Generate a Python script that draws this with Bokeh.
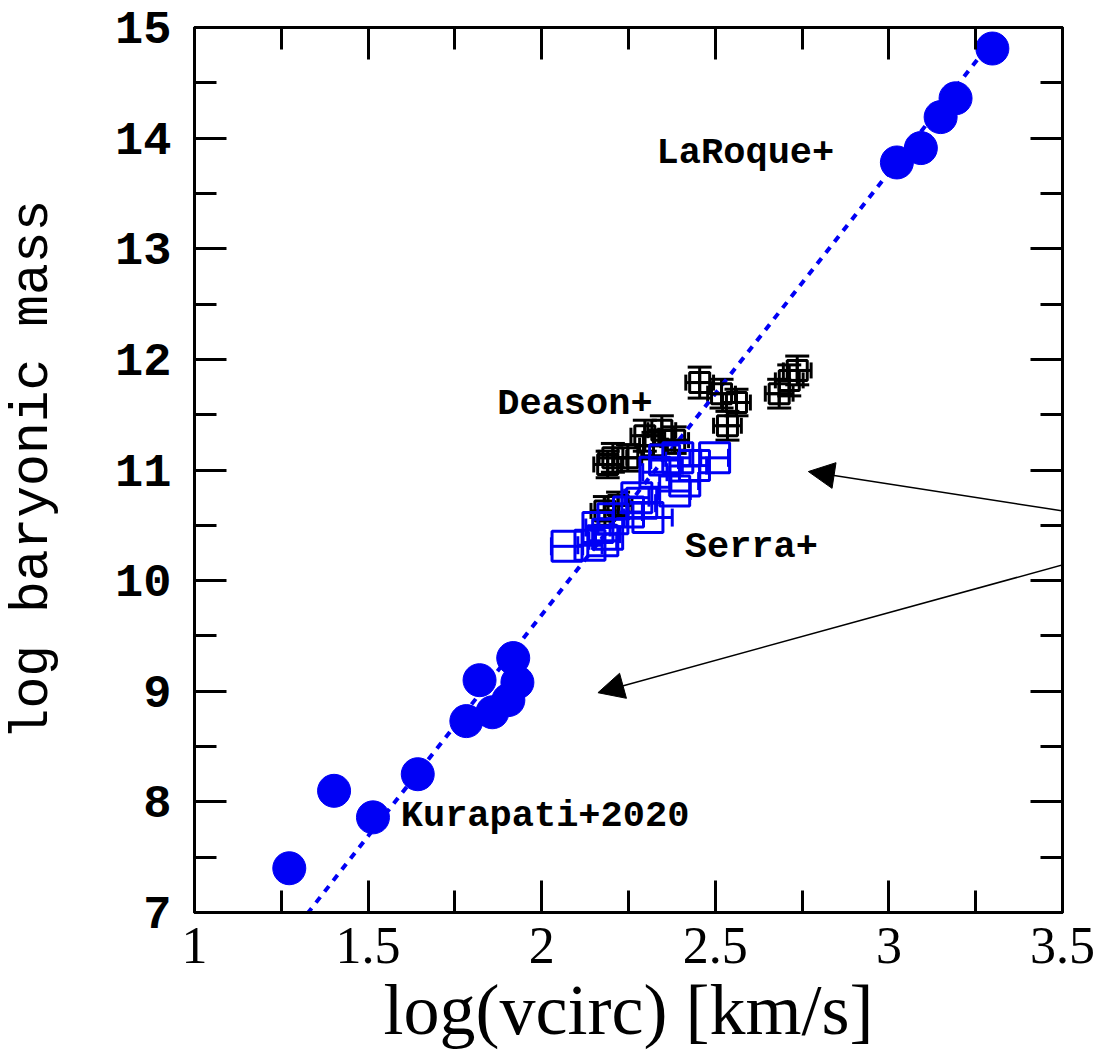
from bokeh.plotting import figure
from bokeh.models import (ColumnDataSource, FixedTicker, LinearAxis, Range1d, Arrow,
                          NormalHead, Whisker, TeeHead, CustomJSTickFormatter)
from bokeh.core.properties import value
from bokeh.embed import file_html
from bokeh.resources import INLINE

# Kurapati+2020 dwarfs
kur_logv = [1.273, 1.402, 1.514, 1.643, 1.783, 1.821, 1.918, 1.930, 1.904, 1.858]
kur_logm = [7.40, 8.10, 7.86, 8.25, 8.73, 9.10, 9.30, 9.08, 8.92, 8.81]

# LaRoque+ clusters
lar_logv = [3.023, 3.092, 3.149, 3.192, 3.298]
lar_logm = [13.78, 13.91, 14.19, 14.36, 14.81]

# Deason+ galaxies (with errors)
dea_logv = [2.182, 2.220, 2.205, 2.248, 2.297, 2.346, 2.383, 2.455, 2.518, 2.561,
            2.535, 2.684, 2.713, 2.736, 2.322, 2.190]
dea_logm = [10.63, 10.68, 11.11, 11.11, 11.31, 11.36, 11.27, 11.79, 11.69, 11.61,
            11.40, 11.69, 11.81, 11.90, 11.22, 11.05]
dea_verr = [0.04, 0.04, 0.04, 0.04, 0.04, 0.04, 0.04, 0.04, 0.04, 0.04,
            0.04, 0.04, 0.04, 0.04, 0.04, 0.04]
dea_merr = [0.13, 0.12, 0.13, 0.12, 0.14, 0.13, 0.12, 0.14, 0.13, 0.12,
            0.13, 0.13, 0.14, 0.13, 0.12, 0.12]

# Serra+ galaxies (with errors)
ser_logv = [2.073, 2.139, 2.176, 2.162, 2.205, 2.288, 2.306, 2.274, 2.354, 2.392,
            2.412, 2.383, 2.440, 2.498, 2.326, 2.190, 2.250]
ser_logm = [10.31, 10.32, 10.36, 10.48, 10.56, 10.70, 10.57, 10.75, 11.09, 11.11,
            10.90, 10.81, 11.04, 11.11, 10.98, 10.42, 10.62]
ser_verr = [0.045, 0.035, 0.040, 0.035, 0.040, 0.040, 0.070, 0.035, 0.040, 0.035,
            0.040, 0.045, 0.035, 0.040, 0.035, 0.035, 0.040]

# Fitted relation, drawn between two end points
fit_logv = [1.30, 3.30]
fit_logm = [6.89, 14.89]

# Axis ticks
x_major = [1, 1.5, 2, 2.5, 3, 3.5]
x_minor = [1.25, 1.75, 2.25, 2.75, 3.25]
y_major = [7, 8, 9, 10, 11, 12, 13, 14, 15]
y_minor = [7.5, 8.5, 9.5, 10.5, 11.5, 12.5, 13.5, 14.5]

BLUE = "#0000f5"

p = figure(width=1102, height=1059, x_range=Range1d(1, 3.5), y_range=Range1d(7, 15),
           output_backend="svg", toolbar_location=None,
           min_border_left=193, min_border_right=40, min_border_top=27,
           min_border_bottom=147, background_fill_color="white",
           border_fill_color="white")
p.xgrid.visible = False
p.ygrid.visible = False
p.outline_line_color = "black"
p.outline_line_width = 3


def style_axis(ax, ticks, minor):
    ax.ticker = FixedTicker(ticks=ticks, minor_ticks=minor)
    ax.axis_line_color = "black"
    ax.axis_line_width = 3
    ax.major_tick_line_color = "black"
    ax.major_tick_line_width = 3
    ax.minor_tick_line_color = "black"
    ax.minor_tick_line_width = 3
    ax.major_tick_in = 32
    ax.major_tick_out = 0
    ax.minor_tick_in = 22
    ax.minor_tick_out = 0
    ax.major_label_text_color = "black"
    ax.axis_label_text_color = "black"
    ax.axis_label_text_font_style = "normal"


xax = p.xaxis[0]
style_axis(xax, x_major, x_minor)
xax.formatter = CustomJSTickFormatter(code="return tick.toString();")
xax.major_label_text_font = "Liberation Serif"
xax.major_label_text_font_size = "52px"
xax.major_label_standoff = 15
xax.axis_label = "log(vcirc) [km/s]"
xax.axis_label_text_font = "Liberation Serif"
xax.axis_label_text_font_size = "72px"
xax.axis_label_standoff = 4

yax = p.yaxis[0]
style_axis(yax, y_major, y_minor)
yax.formatter = CustomJSTickFormatter(code="return tick.toString();")
yax.major_label_text_font = "Liberation Mono"
yax.major_label_text_font_style = "bold"
yax.major_label_text_font_size = "47px"
yax.major_label_standoff = 23
yax.axis_label = "log baryonic mass"
yax.axis_label_text_font = "Liberation Mono"
yax.axis_label_text_font_size = "53px"
yax.axis_label_standoff = 49

# Mirror axes carrying only ticks
for loc, ticks, minor in (("above", x_major, x_minor), ("right", y_major, y_minor)):
    ax = LinearAxis()
    style_axis(ax, ticks, minor)
    ax.formatter = CustomJSTickFormatter(code="return '';")
    ax.major_label_standoff = 0
    ax.major_label_text_font_size = "10px"
    p.add_layout(ax, loc)

# Fitted relation
p.line(fit_logv, fit_logm, line_color=BLUE, line_width=4, line_dash="7 7")

# Deason+ error bars and markers
dea = ColumnDataSource(dict(
    x=dea_logv, y=dea_logm,
    xl=[v - e for v, e in zip(dea_logv, dea_verr)],
    xu=[v + e for v, e in zip(dea_logv, dea_verr)],
    yl=[m - e for m, e in zip(dea_logm, dea_merr)],
    yu=[m + e for m, e in zip(dea_logm, dea_merr)],
))
p.add_layout(Whisker(source=dea, base="x", lower="yl", upper="yu", dimension="height",
                     line_color="black", line_width=3,
                     upper_head=TeeHead(size=24, line_color="black", line_width=3),
                     lower_head=TeeHead(size=24, line_color="black", line_width=3)))
p.add_layout(Whisker(source=dea, base="y", lower="xl", upper="xu", dimension="width",
                     line_color="black", line_width=3,
                     upper_head=TeeHead(size=16, line_color="black", line_width=3),
                     lower_head=TeeHead(size=16, line_color="black", line_width=3)))
p.scatter("x", "y", source=dea, marker="square_cross", size=20, fill_color=None,
          line_color="black", line_width=3)

# Serra+ error bars and markers
ser = ColumnDataSource(dict(
    x=ser_logv, y=ser_logm,
    xl=[v - e for v, e in zip(ser_logv, ser_verr)],
    xu=[v + e for v, e in zip(ser_logv, ser_verr)],
))
p.add_layout(Whisker(source=ser, base="y", lower="xl", upper="xu", dimension="width",
                     line_color=BLUE, line_width=3,
                     upper_head=TeeHead(size=18, line_color=BLUE, line_width=3),
                     lower_head=TeeHead(size=18, line_color=BLUE, line_width=3)))
p.scatter("x", "y", source=ser, marker="square", size=30, fill_color=None,
          line_color=BLUE, line_width=3)

# Kurapati+2020 and LaRoque+ filled circles
p.scatter(kur_logv, kur_logm, marker="circle", size=33, fill_color=BLUE, line_color=BLUE)
p.scatter(lar_logv, lar_logm, marker="circle", size=33, fill_color=BLUE, line_color=BLUE)

# Sample names
lbl_text = ["LaRoque+", "Deason+", "Serra+", "Kurapati+2020"]
lbl_x = [2.331, 1.872, 2.412, 1.594]
lbl_y = [13.87, 11.60, 10.30, 7.875]
p.text(lbl_x, lbl_y, text=lbl_text, text_font=value("Liberation Mono"),
       text_font_style="bold", text_font_size="37px", text_color="black",
       text_align="left", text_baseline="alphabetic")

# Pointer arrows
arrow_x0 = [3.588, 3.545]
arrow_y0 = [10.588, 10.181]
arrow_x1 = [2.768, 2.162]
arrow_y1 = [10.986, 8.987]
for xs, ys, xe, ye in zip(arrow_x0, arrow_y0, arrow_x1, arrow_y1):
    p.add_layout(Arrow(x_start=xs, y_start=ys, x_end=xe, y_end=ye, line_color="black",
                       line_width=1.5,
                       end=NormalHead(size=26, fill_color="black", line_color="black",
                                      line_width=1)))

open("out.html", "w").write(file_html(p, INLINE))
